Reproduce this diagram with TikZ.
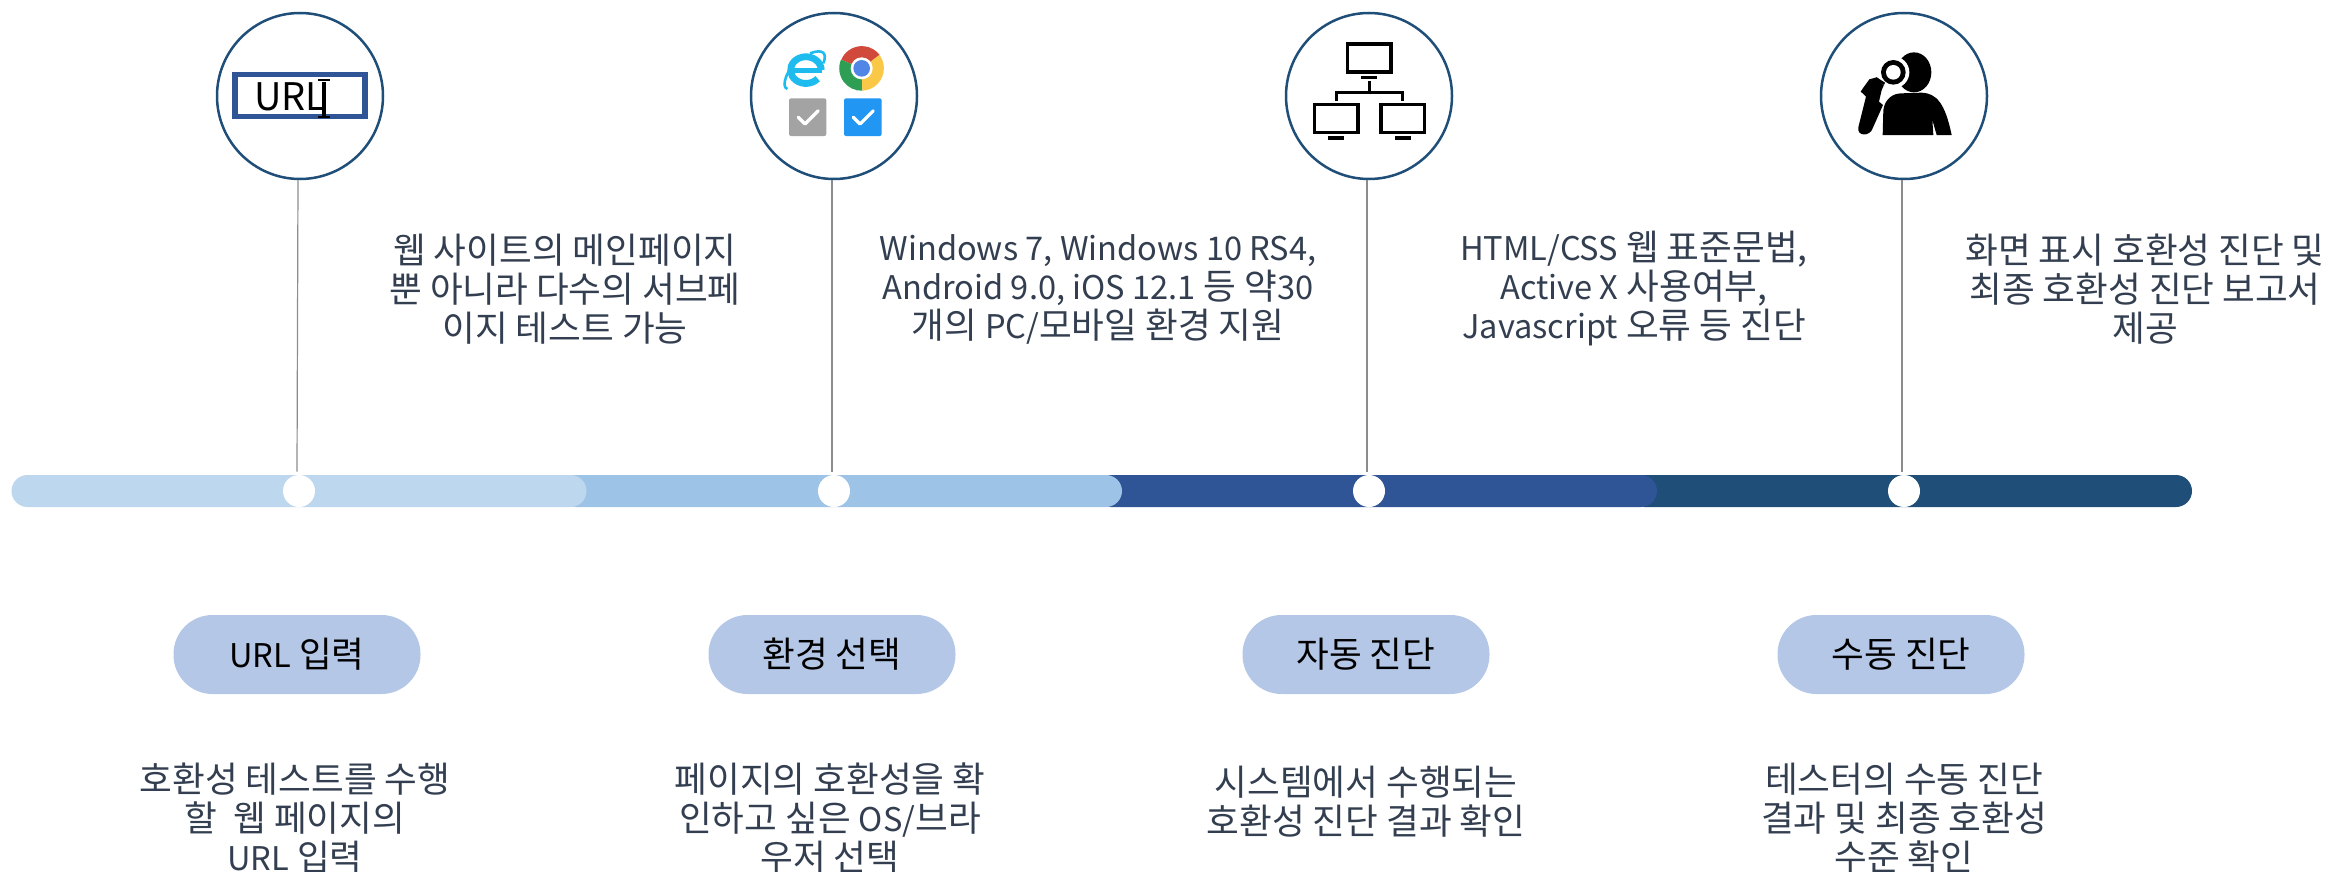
\documentclass[tikz,border=0pt]{standalone}
\usepackage{fontspec}
\setmainfont{Noto Sans CJK KR}
\usetikzlibrary{positioning}
\definecolor{ringBlue}{HTML}{1F4E79}
\definecolor{barOne}{HTML}{BDD7EE}
\definecolor{barTwo}{HTML}{9DC3E6}
\definecolor{barThree}{HTML}{2F5597}
\definecolor{barFour}{HTML}{1F4E79}
\definecolor{pillBlue}{HTML}{B4C7E7}
\definecolor{noteText}{HTML}{333F50}
\definecolor{stemGray}{HTML}{8C8C8C}
\definecolor{ieBlue}{HTML}{1EBBEE}
\definecolor{chromeRed}{HTML}{D0493A}
\definecolor{chromeGreen}{HTML}{2F9E55}
\definecolor{chromeYellow}{HTML}{F9C846}
\definecolor{chromeBlue}{HTML}{5186E6}
\definecolor{tickGray}{HTML}{A3A3A3}
\definecolor{tickBlue}{HTML}{2196F3}
\newcommand{\LatinRun}[1]{{\fontsize{16.3}{19.75}\selectfont #1}}

\begin{document}
\begin{tikzpicture}[x=0.5pt,y=-0.5pt]
\tikzset{IconRing/.style={
  circle,
  draw=ringBlue,
  line width=1.25pt,
  fill=white,
  minimum size=83pt,
  inner sep=0pt,
}}
\tikzset{BarPiece/.style={
  rectangle,
  rounded corners=8pt,
  minimum height=16pt,
  inner sep=0pt,
}}
\tikzset{BarDot/.style={
  circle,
  fill=white,
  minimum size=16pt,
  inner sep=0pt,
}}
\tikzset{StepPill/.style={
  rectangle,
  rounded corners=19.5pt,
  fill=pillBlue,
  minimum width=123.5pt,
  minimum height=39.5pt,
  inner sep=0pt,
  font=\fontsize{17.8}{20}\selectfont,
}}
\tikzset{NoteText/.style={
  align=center,
  text=noteText,
  inner sep=0pt,
  font=\fontsize{17.8}{19.5}\selectfont,
}}
\tikzset{StemLine/.style={draw=stemGray, line width=0.6pt}}
\tikzset{IconScope/.style={x=0.16667pt,y=-0.16667pt}}
\tikzset{TickMark/.style={white, line width=1.6pt, line cap=round, line join=round}}

\useasboundingbox (0,0) rectangle (2336,872);

% bar, last piece first
\node[BarPiece, fill=barFour, minimum width=282pt] (BarFour) at (1910,491) {};
\node[BarPiece, fill=barThree, minimum width=281pt] (BarThree) at (1376,491) {};
\node[BarPiece, fill=barTwo, minimum width=281pt] (BarTwo) at (841,491) {};
\node[BarPiece, fill=barOne, minimum width=287.5pt] (BarOne) at (299,491) {};

\node[BarDot] (DotUrl) at (299,491) {};
\node[BarDot] (DotEnv) at (834,491) {};
\node[BarDot] (DotAuto) at (1369,491) {};
\node[BarDot] (DotManual) at (1904,491) {};

\node[IconRing] (RingUrl) at (300,96) {};
\node[IconRing] (RingEnv) at (834,96) {};
\node[IconRing] (RingAuto) at (1369,96) {};
\node[IconRing] (RingManual) at (1904,96) {};

\draw[StemLine] ([xshift=-1pt]RingUrl.south) -- ([xshift=-1pt,yshift=1.5pt]DotUrl.north);
\draw[StemLine] ([xshift=-1pt]RingEnv.south) -- ([xshift=-1pt,yshift=1.5pt]DotEnv.north);
\draw[StemLine] ([xshift=-1pt]RingAuto.south) -- ([xshift=-1pt,yshift=1.5pt]DotAuto.north);
\draw[StemLine] ([xshift=-1pt]RingManual.south) -- ([xshift=-1pt,yshift=1.5pt]DotManual.north);

% url box icon
\draw[draw=barThree, line width=2.75pt] (235,74.5) rectangle (365,116.5);
\node[inner sep=0pt, anchor=west, font=\fontsize{19}{20}\selectfont] (UrlWord) at (254,97) {URL};
\draw[line width=1.8pt] (324,82) -- (324,116);
\draw[line width=1pt] (318,80.5) -- (330,80.5) (318,117) -- (330,117);

% browser icons
\begin{scope}[shift={(770,30)},IconScope]
  \draw[line width=1.3pt, draw=ieBlue] (52,177) .. controls (30,170) and (55,110) .. (85,92)
    (120,70) .. controls (160,55) and (172,70) .. (160,100);
  \draw[line width=3.4pt, draw=ieBlue] (143,146) arc (40:360:46 and 40);
  \draw[line width=2.6pt, draw=ieBlue] (72,121) -- (155,121);
  \fill[chromeRed] (275,115) -- (329,75) arc (-37:-157:67) -- cycle;
  \fill[chromeGreen] (275,115) -- (213,89) arc (-157:-272:67) -- cycle;
  \fill[chromeYellow] (275,115) -- (277,182) arc (88:-37:67) -- cycle;
  \fill[white] (275,115) circle (33);
  \fill[chromeBlue] (275,115) circle (25);
  \fill[tickGray, rounded corners=1pt] (57,205) rectangle (169,318);
  \fill[tickBlue, rounded corners=1pt] (222,205) rectangle (335,318);
  \draw[TickMark] (85,262) -- (105,282) -- (145,242);
  \draw[TickMark] (250,262) -- (270,282) -- (310,242);
\end{scope}

% network icon
\begin{scope}[shift={(1300,30)},IconScope]
  \foreach \mx/\my in {208/84, 109/266, 308/266} {
    \draw[line width=1.7pt] (\mx-65,\my-42) rectangle (\mx+65,\my+42);
    \fill (\mx-24,\my+53) rectangle (\mx+24,\my+64);
  }
  \draw[line width=1.7pt] (208,152) -- (208,187) (109,213) -- (109,187) -- (308,187) -- (308,213);
\end{scope}

% person with magnifier icon
\begin{scope}[shift={(1840,40)},IconScope]
  \fill (222,97) ellipse (52 and 60);
  \fill (128,285) -- (130,210) .. controls (135,175) and (160,160) .. (185,160) -- (245,158)
    .. controls (290,160) and (315,190) .. (335,285) -- (290,285) -- (277,240) -- (280,285) -- cycle;
  \fill (62,155) -- (70,143) -- (88,118) -- (110,112) -- (135,128) -- (125,150) -- (117,185) -- (129,195)
    -- (98,265) .. controls (90,290) and (50,290) .. (55,262) -- (78,170) -- (68,160) -- cycle;
  \fill[white] (160,97) circle (48);
  \fill (160,97) circle (37);
  \fill[white] (160,97) circle (22);
  \fill (110,112) -- (135,128) -- (132,135) -- (105,118) -- cycle;
\end{scope}

\node[NoteText] (NoteUrl) at (565,289) {웹 사이트의 메인페이지\\뿐 아니라 다수의 서브페\\이지 테스트 가능};
\node[NoteText] (NoteEnv) at (1098,289) {\LatinRun{Windows 7, Windows 10 RS4,}\\\LatinRun{Android 9.0, iOS 12.1} 등 약\LatinRun{30}\\개의 \LatinRun{PC/}모바일 환경 지원};
\node[NoteText] (NoteAuto) at (1634,289) {\LatinRun{HTML/CSS} 웹 표준문법,\\\LatinRun{Active X} 사용여부,\\\LatinRun{Javascript} 오류 등 진단};
\node[NoteText] (NoteManual) at (2145,289) {화면 표시 호환성 진단 및\\최종 호환성 진단 보고서\\제공};

\node[StepPill] (PillUrl) at (297,654.5) {\LatinRun{URL} 입력};
\node[StepPill] (PillEnv) at (832,654.5) {환경 선택};
\node[StepPill] (PillAuto) at (1366,654.5) {자동 진단};
\node[StepPill] (PillManual) at (1901,654.5) {수동 진단};

\node[NoteText] (DescUrl) at (295,818) {호환성 테스트를 수행\\할\ \ 웹 페이지의\\\LatinRun{URL} 입력};
\node[NoteText] (DescEnv) at (830,818) {페이지의 호환성을 확\\인하고 싶은 \LatinRun{OS/}브라\\우저 선택};
\node[NoteText] (DescAuto) at (1366,802) {시스템에서 수행되는\\호환성 진단 결과 확인};
\node[NoteText] (DescManual) at (1904,818) {테스터의 수동 진단\\결과 및 최종 호환성\\수준 확인};
\end{tikzpicture}
\end{document}
